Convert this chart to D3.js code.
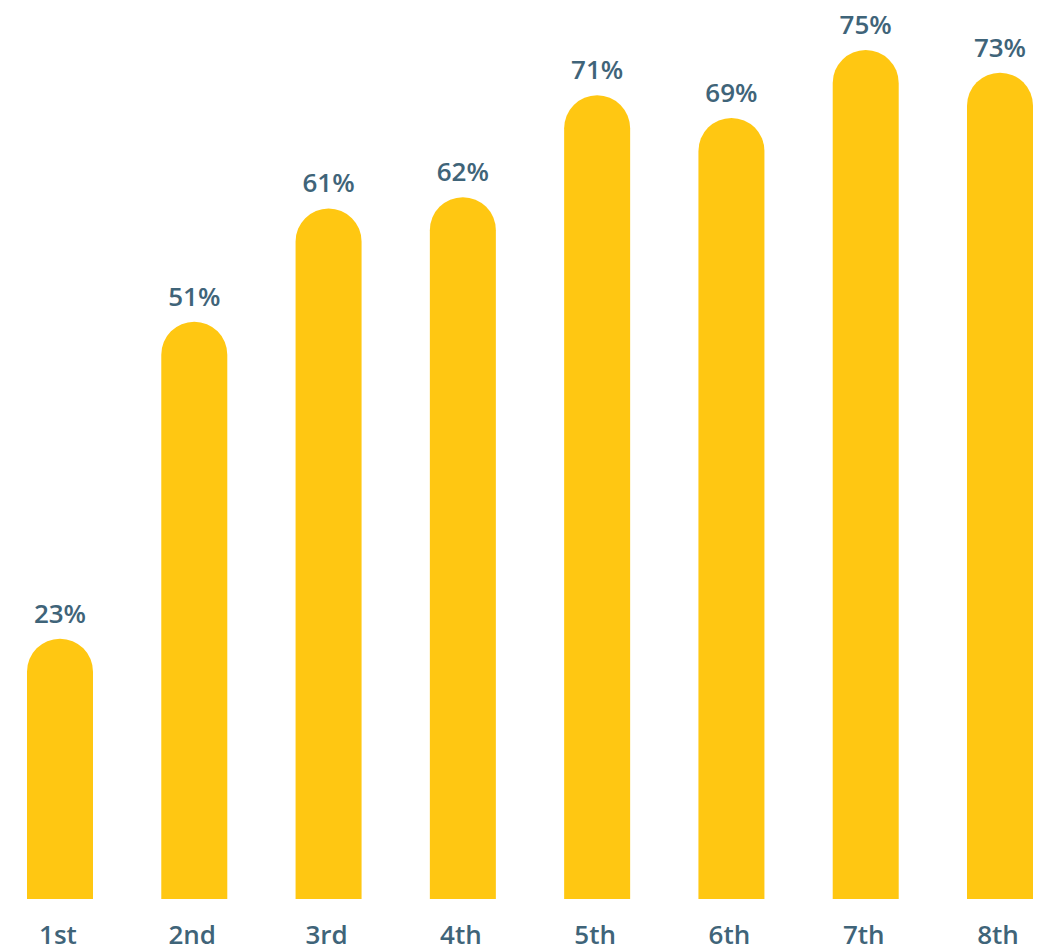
<!DOCTYPE html>
<html>
<head>
<meta charset="utf-8">
<script src="https://cdn.jsdelivr.net/npm/d3@7"></script>
<style>
  html, body { margin: 0; padding: 0; background: #fff; }
  svg { display: block; }
  text { font-family: "Open Sans", "Noto Sans", sans-serif; font-weight: 600; }
</style>
</head>
<body>
<svg id="chart" width="1052" height="951"></svg>
<script>
// Share by grade
const categories = ["1st", "2nd", "3rd", "4th", "5th", "6th", "7th", "8th"];
const values = [23, 51, 61, 62, 71, 69, 75, 73];

const svg = d3.select("#chart");

const x = d3.scalePoint().domain(categories).range([60, 1000]);
const barW = 66;
const y = d3.scaleLinear().domain([0, 75]).range([899, 50]);

const barColor = "#FFC712";
const textColor = "#3F6479";

// Bar with a semicircular cap
function barPath(cx, top, bottom, w) {
  const r = w / 2;
  const p = d3.path();
  p.moveTo(cx - r, bottom);
  p.lineTo(cx - r, top + r);
  p.arc(cx, top + r, r, Math.PI, 0);
  p.lineTo(cx + r, bottom);
  p.closePath();
  return p.toString();
}

const data = categories.map((c, i) => ({ c, v: values[i] }));

svg.append("g").selectAll("path")
  .data(data)
  .join("path")
  .attr("d", d => barPath(x(d.c), y(d.v), y(0), barW))
  .attr("fill", barColor);

svg.append("g").selectAll("text")
  .data(data)
  .join("text")
  .attr("x", d => x(d.c))
  .attr("y", d => y(d.v) - 16)
  .attr("text-anchor", "middle")
  .attr("font-size", 26)
  .attr("fill", textColor)
  .text(d => d.v + "%");

svg.append("g").selectAll("text")
  .data(data)
  .join("text")
  .attr("x", d => x(d.c) - 2)
  .attr("y", 944)
  .attr("text-anchor", "middle")
  .attr("font-size", 26)
  .attr("fill", textColor)
  .text(d => d.c);
</script>
</body>
</html>
